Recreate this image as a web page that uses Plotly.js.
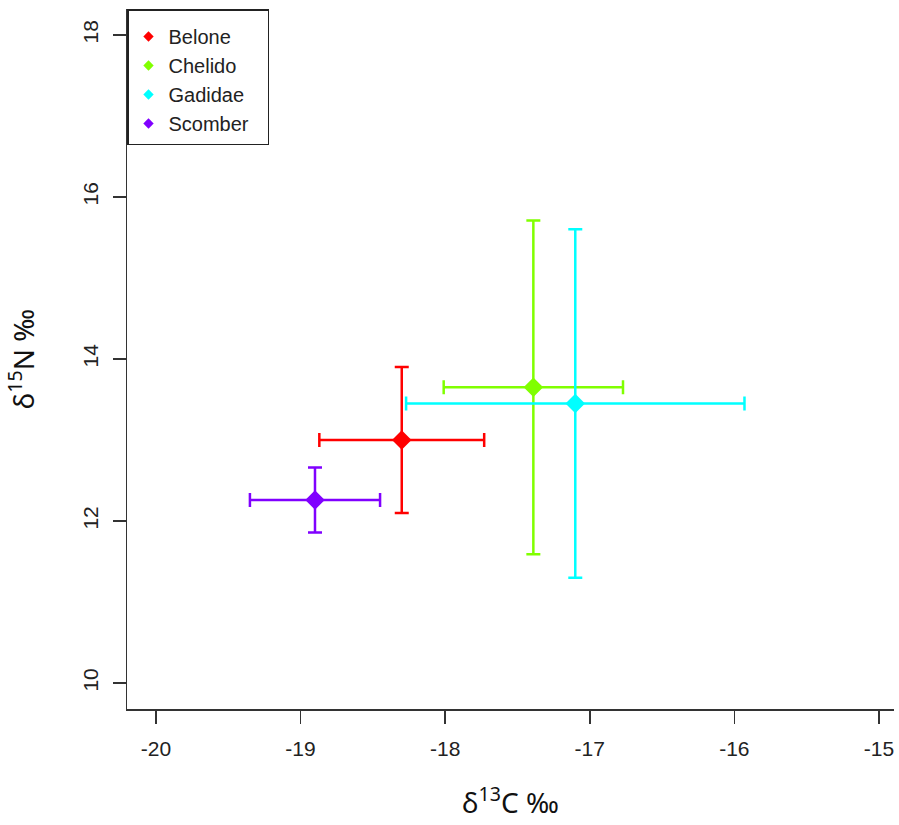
<!DOCTYPE html>
<html>
<head>
<meta charset="utf-8">
<script src="https://cdn.plot.ly/plotly-3.0.1.min.js"></script>
<style>html,body{margin:0;padding:0;background:#fff;}#chart{width:899px;height:825px;}</style>
</head>
<body>
<div id="chart"></div>
<script>
// Data
const taxa = ["Belone", "Chelido", "Gadidae", "Scomber"];
const colors = ["#FF0000", "#80FF00", "#00FFFF", "#8000FF"];
const d13C = [-18.30, -17.39, -17.10, -18.90];
const d13C_err = [0.57, 0.62, 1.17, 0.45];
const d15N = [13.00, 13.65, 13.45, 12.26];
const d15N_err = [0.90, 2.06, 2.15, 0.40];
const xTicks = [-20, -19, -18, -17, -16, -15];
const yTicks = [10, 12, 14, 16, 18];

const traces = [];
taxa.forEach((name, i) => {
  traces.push({
    type: "scatter", mode: "markers", name: name,
    x: [d13C[i]], y: [d15N[i]],
    showlegend: false,
    marker: {symbol: "diamond", size: 15, color: colors[i], line: {width: 0}},
    error_x: {type: "data", array: [d13C_err[i]], visible: true, color: colors[i], thickness: 2.5, width: 7},
    error_y: {type: "data", array: [d15N_err[i]], visible: true, color: colors[i], thickness: 2.5, width: 7},
    cliponaxis: false
  });
});
// legend entries (smaller diamond as in the reference legend)
taxa.forEach((name, i) => {
  traces.push({
    type: "scatter", mode: "markers", name: name,
    x: [null], y: [null], showlegend: true,
    marker: {symbol: "diamond", size: 8, color: colors[i]}
  });
});

const tickFont = {family: "Liberation Sans, Arial, sans-serif", size: 21, color: "#222"};
const titleFont = {family: "Noto Sans, Open Sans, sans-serif", size: 28, color: "#111"};

const layout = {
  width: 899, height: 825,
  margin: {l: 127, r: 5, t: 9, b: 116, pad: 0},
  paper_bgcolor: "#fff", plot_bgcolor: "#fff",
  showlegend: true,
  legend: {
    x: 0, y: 1, xanchor: "left", yanchor: "top",
    bgcolor: "#fff", bordercolor: "#222", borderwidth: 1.5,
    font: {family: "Liberation Sans, Arial, sans-serif", size: 20, color: "#222"},
    // invisible spacer title: adds top padding and widens the box like the reference
    title: {text: "\u00a0".repeat(97), font: {family: "Liberation Sans, Arial, sans-serif", size: 5}},
    tracegroupgap: 0, itemwidth: 30
  },
  xaxis: {
    range: [-20.2, -14.896], tickvals: xTicks, ticktext: xTicks.map(String),
    showgrid: false, zeroline: false, showline: true, linecolor: "#333", linewidth: 1.5,
    ticks: "outside", ticklen: 13, tickwidth: 1.5, tickcolor: "#333",
    tickfont: tickFont, ticklabelstandoff: 7,
    title: {text: "δ<sup>13</sup>C ‰", font: titleFont, standoff: 34}
  },
  yaxis: {
    range: [9.68, 18.32], tickvals: yTicks, ticktext: yTicks.map(String),
    showgrid: false, zeroline: false, showline: true, linecolor: "#333", linewidth: 1.5,
    ticks: "outside", ticklen: 13, tickwidth: 1.5, tickcolor: "#333",
    tickfont: tickFont, tickangle: -90, ticklabelstandoff: 6,
    title: {text: "δ<sup>15</sup>N ‰", font: titleFont, standoff: 36}
  }
};

Plotly.newPlot("chart", traces, layout, {displayModeBar: false, staticPlot: true});
</script>
</body>
</html>
